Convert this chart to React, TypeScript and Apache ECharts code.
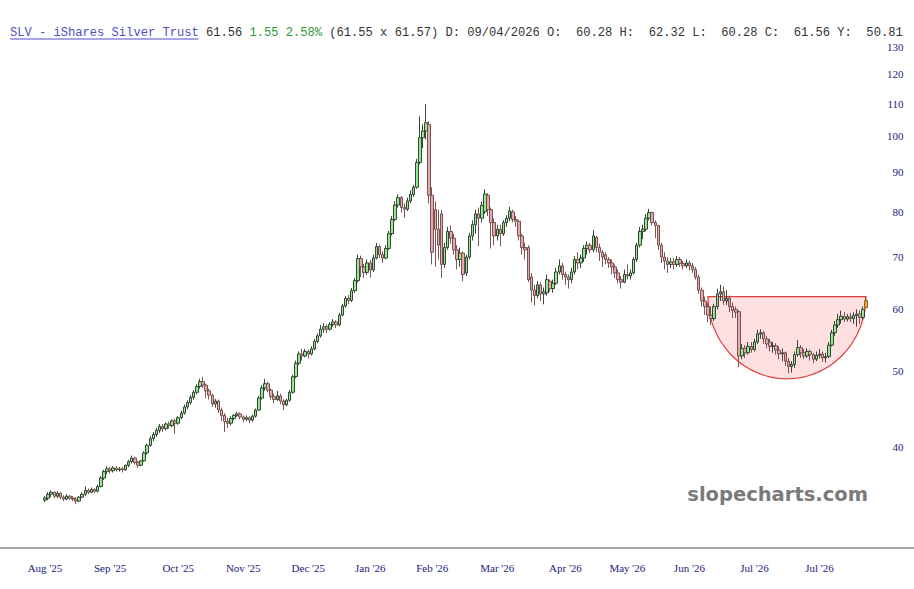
import { useEffect, useRef } from "react";
import * as echarts from "echarts";

// ---- Data ----
// Each candle: [open, close, low, high]
const aug25 = [
  [34.2, 34.4, 34.0, 34.6], [34.4, 34.8, 34.2, 35.0], [34.8, 35.0, 34.5, 35.2], [35.0, 34.6, 34.4, 35.1],
  [34.6, 34.9, 34.4, 35.1], [34.9, 34.5, 34.3, 35.0], [34.5, 34.3, 34.1, 34.7], [34.3, 34.6, 34.2, 34.8],
  [34.6, 34.4, 34.2, 34.7], [34.4, 34.3, 34.1, 34.6], [34.3, 34.1, 33.8, 34.5], [34.1, 34.5, 34.0, 34.6],
  [34.5, 34.8, 34.4, 35.0], [34.8, 35.2, 34.6, 35.6], [35.2, 35.0, 34.8, 35.4], [35.0, 35.3, 34.9, 35.5],
  [35.3, 35.1, 34.9, 35.4], [35.1, 35.6, 35.0, 35.8], [35.6, 36.5, 35.5, 36.7], [36.5, 37.2, 36.3, 37.4],
  [37.2, 37.5, 36.9, 37.8],
];
const sep25 = [
  [37.5, 37.3, 37.0, 37.7], [37.3, 37.6, 37.1, 37.8], [37.6, 37.4, 37.2, 37.8], [37.4, 37.5, 37.2, 37.7],
  [37.5, 37.4, 37.1, 37.7], [37.4, 37.9, 37.3, 38.0], [37.9, 38.3, 37.7, 38.5], [38.3, 38.7, 38.1, 39.0],
  [38.7, 38.2, 38.0, 38.9], [38.2, 37.9, 37.6, 38.4], [37.9, 38.4, 37.8, 38.5], [38.4, 39.3, 38.3, 39.5],
  [39.3, 40.2, 39.1, 40.4], [40.2, 41.0, 40.0, 41.3], [41.0, 41.5, 40.7, 41.8], [41.5, 42.0, 41.2, 42.3],
  [42.0, 42.5, 41.7, 42.8], [42.5, 42.2, 41.8, 42.8], [42.2, 42.8, 42.0, 43.0], [42.8, 42.6, 42.2, 43.1],
  [42.6, 43.2, 42.4, 43.4], [43.2, 42.9, 41.6, 43.5],
];
const oct25 = [
  [42.9, 43.6, 42.7, 43.8], [43.6, 44.2, 43.4, 44.5], [44.2, 45.0, 44.0, 45.3], [45.0, 45.6, 44.7, 45.9],
  [45.6, 46.3, 45.3, 46.6], [46.3, 47.0, 46.0, 47.3], [47.0, 47.8, 46.7, 48.1], [47.8, 48.5, 47.5, 48.9],
  [48.5, 48.0, 47.6, 49.2], [48.0, 47.2, 46.2, 48.2], [47.2, 46.6, 46.0, 47.5], [46.6, 45.4, 45.0, 46.8],
  [45.4, 45.8, 44.9, 46.1], [45.8, 44.6, 44.2, 46.0], [44.6, 43.9, 43.2, 44.9], [43.9, 43.1, 41.8, 44.2],
  [43.1, 42.9, 42.3, 43.6], [42.9, 43.5, 42.6, 43.8], [43.5, 43.9, 43.3, 44.1], [43.9, 44.1, 43.7, 44.4],
  [44.1, 43.7, 43.4, 44.3],
];
const nov25 = [
  [43.7, 43.4, 43.0, 43.9], [43.4, 43.6, 43.2, 43.9], [43.6, 43.3, 42.9, 43.8], [43.3, 43.8, 43.1, 44.0],
  [43.8, 44.6, 43.6, 44.8], [44.6, 46.2, 44.5, 46.5], [46.2, 47.6, 46.0, 48.0], [47.6, 48.2, 47.2, 48.9],
  [48.2, 47.3, 47.0, 48.5], [47.3, 46.4, 46.0, 47.5], [46.4, 46.0, 45.5, 46.8], [46.0, 46.5, 45.8, 47.2],
  [46.5, 45.8, 45.4, 46.8], [45.8, 45.3, 44.6, 46.0], [45.3, 45.9, 45.1, 46.1], [45.9, 47.0, 45.7, 47.3],
  [47.0, 49.2, 46.8, 49.5], [49.2, 51.2, 49.0, 51.6], [51.2, 52.6, 50.9, 53.0], [52.6, 52.3, 51.6, 53.4],
  [52.3, 53.0, 52.1, 53.4],
];
const dec25 = [
  [53.0, 52.6, 51.9, 53.3], [52.6, 53.4, 52.4, 53.8], [53.4, 54.6, 53.2, 55.0], [54.6, 55.5, 54.3, 55.9],
  [55.5, 56.6, 55.2, 57.3], [56.6, 57.0, 56.0, 57.6], [57.0, 56.6, 56.0, 57.4], [56.6, 57.4, 56.4, 57.8],
  [57.4, 57.8, 57.0, 58.3], [57.8, 57.3, 56.8, 58.1], [57.3, 59.0, 57.1, 59.4], [59.0, 60.6, 58.8, 61.0],
  [60.6, 62.0, 60.3, 62.4], [62.0, 61.6, 60.9, 62.6], [61.6, 63.4, 61.3, 63.9], [63.4, 65.3, 63.0, 65.8],
  [65.3, 69.7, 64.9, 70.5], [69.7, 68.0, 66.0, 70.3], [68.0, 66.9, 65.8, 68.6], [66.9, 68.8, 66.4, 69.5],
];
const jan26 = [
  [68.8, 67.4, 65.9, 69.4], [67.4, 69.8, 67.0, 70.5], [69.8, 72.2, 69.5, 73.0], [72.2, 70.5, 69.8, 72.6],
  [70.5, 69.8, 68.8, 71.2], [69.8, 71.8, 69.5, 72.5], [71.8, 75.0, 71.5, 75.6], [75.0, 78.2, 74.6, 79.0],
  [78.2, 81.6, 77.8, 82.5], [81.6, 83.4, 81.0, 84.2], [83.4, 81.0, 79.8, 83.8], [81.0, 80.6, 78.6, 82.0],
  [80.6, 82.6, 80.2, 83.4], [82.6, 84.2, 82.0, 85.2], [84.2, 86.0, 83.6, 86.6], [86.0, 92.5, 85.6, 93.5],
  [92.5, 99.5, 92.0, 106.0], [99.5, 101.5, 96.5, 103.5], [101.5, 104.0, 99.0, 109.9], [103.5, 84.0, 82.0, 104.5],
];
const feb26 = [
  [84.0, 71.0, 68.5, 86.0], [80.5, 76.0, 68.0, 82.5], [76.0, 72.5, 69.5, 80.5], [79.5, 68.5, 65.8, 80.5],
  [68.5, 72.0, 67.8, 73.0], [72.0, 75.5, 71.5, 76.5], [75.5, 74.0, 72.8, 76.8], [74.0, 71.5, 70.5, 75.0],
  [71.5, 69.5, 67.5, 72.5], [69.5, 70.8, 68.0, 72.0], [70.8, 66.5, 65.2, 71.2], [66.8, 70.0, 66.2, 70.5],
  [70.0, 74.5, 69.5, 75.2], [74.5, 77.0, 73.5, 78.0], [77.0, 79.5, 75.0, 80.5], [79.5, 78.5, 72.3, 81.0],
  [78.5, 81.5, 77.5, 82.5], [80.0, 84.3, 79.5, 85.5], [84.0, 80.5, 79.0, 84.5], [80.5, 77.5, 71.8, 81.0],
  [77.5, 74.5, 72.5, 78.5],
];
const mar26 = [
  [74.5, 76.0, 73.5, 77.0], [76.0, 75.0, 72.3, 77.0], [75.0, 77.5, 74.5, 78.0], [77.5, 78.5, 76.5, 79.2],
  [78.5, 80.2, 77.8, 81.2], [80.0, 78.2, 77.5, 80.5], [78.2, 77.8, 76.5, 79.0], [77.8, 74.5, 73.5, 78.0],
  [74.5, 72.0, 70.5, 75.0], [72.0, 71.5, 69.5, 73.0], [72.0, 65.5, 65.0, 72.5], [66.0, 63.5, 61.2, 66.8],
  [63.5, 62.5, 60.7, 64.5], [62.5, 64.5, 62.0, 65.2], [64.5, 62.8, 61.5, 65.0], [62.8, 63.2, 60.9, 64.0],
  [63.0, 65.5, 62.5, 66.5], [65.2, 63.8, 63.2, 65.5], [63.8, 64.8, 63.0, 65.5], [64.8, 67.0, 64.5, 67.8],
  [67.0, 68.2, 66.5, 69.5], [68.2, 66.5, 65.5, 68.8],
];
const apr26 = [
  [66.5, 66.0, 64.5, 67.0], [66.0, 65.5, 63.8, 66.5], [65.5, 67.0, 64.8, 67.8], [67.0, 69.5, 66.5, 70.2],
  [69.5, 68.8, 67.5, 71.0], [68.8, 69.8, 67.8, 70.5], [69.8, 71.8, 69.0, 72.5], [71.8, 72.5, 70.5, 73.3],
  [72.5, 71.5, 70.8, 73.0], [71.5, 74.5, 71.0, 75.8], [74.2, 72.0, 71.0, 74.5], [72.0, 71.0, 69.2, 72.8],
  [71.0, 70.0, 68.0, 71.5], [70.5, 69.5, 68.5, 71.0], [69.5, 68.8, 67.8, 70.0], [68.8, 68.0, 66.5, 69.5],
  [68.0, 66.8, 65.8, 68.5], [66.8, 65.5, 64.8, 67.5], [65.5, 65.0, 63.8, 66.2], [65.0, 66.5, 64.8, 67.5],
];
const may26 = [
  [66.5, 66.2, 65.5, 68.5], [66.2, 66.8, 65.5, 67.5], [66.8, 69.5, 66.5, 70.0], [69.5, 72.5, 69.0, 73.0],
  [72.5, 75.5, 72.0, 76.5], [75.5, 76.0, 73.8, 77.0], [76.0, 78.5, 75.5, 79.5], [78.5, 79.8, 78.0, 80.7],
  [79.8, 77.5, 76.8, 80.0], [77.5, 76.8, 74.0, 78.0], [76.8, 72.5, 71.5, 77.0], [72.5, 70.0, 68.8, 73.0],
  [70.0, 69.2, 67.5, 71.0], [69.2, 68.5, 66.8, 70.0], [68.5, 69.0, 67.8, 69.8], [69.0, 68.5, 67.5, 69.8],
  [68.5, 69.5, 68.0, 70.2], [69.5, 68.7, 68.0, 70.0], [68.7, 68.2, 67.5, 69.2], [68.2, 68.8, 67.8, 69.5],
];
const jun26 = [
  [68.8, 68.2, 67.3, 69.3], [68.2, 67.5, 66.8, 68.8], [67.5, 66.0, 65.5, 68.0], [66.0, 63.5, 62.8, 66.5],
  [63.5, 61.5, 60.5, 64.0], [61.5, 60.5, 59.0, 62.3], [60.5, 59.0, 57.8, 61.2], [59.0, 58.4, 57.3, 60.5],
  [58.4, 60.5, 58.0, 61.0], [60.5, 62.8, 60.0, 63.8], [62.8, 63.2, 61.5, 64.5], [63.2, 61.5, 60.8, 64.2],
  [61.5, 62.0, 60.8, 63.5], [62.0, 60.5, 59.5, 62.5], [60.5, 59.8, 58.5, 61.2], [60.0, 59.5, 58.5, 60.5],
  [59.6, 52.3, 50.6, 59.8], [52.3, 53.5, 51.8, 54.2], [53.5, 52.8, 52.0, 54.0], [52.8, 53.8, 52.5, 54.5],
  [53.8, 53.3, 52.8, 54.5],
];
const jul26 = [
  [53.3, 54.5, 53.0, 55.0], [54.5, 55.8, 54.2, 56.5], [55.8, 56.0, 55.0, 56.6], [56.0, 55.0, 54.2, 56.3],
  [55.0, 54.2, 53.5, 55.5], [54.5, 53.8, 53.0, 55.0], [53.8, 53.9, 52.8, 54.5], [53.9, 53.2, 52.5, 54.3],
  [53.2, 52.6, 51.8, 53.8], [52.6, 52.8, 51.5, 53.5], [52.8, 51.5, 50.8, 53.0], [51.5, 50.7, 49.7, 52.0],
  [50.7, 51.0, 49.8, 51.5], [51.0, 52.5, 50.5, 53.0], [52.5, 53.6, 52.2, 54.8], [53.6, 52.8, 52.0, 54.0],
  [52.8, 52.3, 51.8, 53.4], [52.3, 53.0, 52.0, 53.5], [53.0, 52.5, 51.6, 53.3], [52.5, 51.8, 51.2, 52.8],
  [51.8, 52.4, 51.5, 53.0],
];
const aug26 = [
  [52.4, 52.6, 51.9, 53.4], [52.6, 52.0, 51.4, 53.0], [52.0, 52.2, 51.3, 52.8], [52.2, 54.0, 52.0, 54.5],
  [54.0, 56.0, 53.8, 56.5], [56.0, 57.3, 55.5, 58.0], [57.3, 58.2, 56.8, 59.2], [58.2, 58.8, 57.5, 59.8],
  [58.8, 58.3, 57.8, 59.5], [58.3, 58.7, 57.9, 59.2], [58.7, 58.4, 57.8, 59.4], [58.4, 58.9, 57.5, 59.5],
  [58.9, 59.2, 57.0, 60.0], [59.2, 58.6, 57.5, 59.8], [58.6, 60.01, 58.2, 60.5], [60.28, 61.56, 60.28, 62.32],
];

const monthStarts = [0, 21, 43, 64, 85, 105, 125, 146, 168, 188, 208, 229, 250];
const monthLabels = [
  "Aug '25", "Sep '25", "Oct '25", "Nov '25", "Dec '25", "Jan '26", "Feb '26",
  "Mar '26", "Apr '26", "May '26", "Jun '26", "Jul '26", "Jul '26",
];
const yTicks = [40, 50, 60, 70, 80, 90, 100, 110, 120, 130];
// rounded-bottom pattern: [left index, right index, rim price, bottom price]
const bowl = [214, 265, 62.3, 48.9];

const titleLink = "SLV - iShares Silver Trust";
const titlePrice = "61.56";
const titleChange = "1.55 2.58%";
const titleRest = "(61.55 x 61.57) D: 09/04/2026 O:  60.28 H:  62.32 L:  60.28 C:  61.56 Y:  50.81";
const watermark = "slopecharts.com";

const SERIF = "'Liberation Serif', 'Times New Roman', serif";
const MONO = "'Liberation Mono', 'Courier New', monospace";
const SANS = "'DejaVu Sans', Verdana, sans-serif";

export default function App() {
  const ref = useRef<HTMLDivElement>(null);

  useEffect(() => {
    if (!ref.current) return;
    const chart = echarts.init(ref.current, null, { renderer: "svg" });

    const candles = [
      ...aug25, ...sep25, ...oct25, ...nov25, ...dec25, ...jan26, ...feb26,
      ...mar26, ...apr26, ...may26, ...jun26, ...jul26, ...aug26,
    ];
    const last = candles.length - 1;
    const categories = candles.map((_, i) => String(i));
    const labelMap: Record<number, string> = {};
    monthStarts.forEach((idx, k) => (labelMap[idx] = monthLabels[k]));

    const candleData = candles.map((c, i) =>
      i === last
        ? { value: c, itemStyle: { color: "#f3a23e", borderColor: "#8a4f12", color0: "#f3a23e", borderColor0: "#8a4f12" } }
        : c
    );

    const option: any = {
      animation: false,
      backgroundColor: "#ffffff",
      grid: { left: 43.45, right: 46.5, top: 47, bottom: 41, containLabel: false, outerBoundsMode: "none" },
      xAxis: {
        type: "category",
        data: categories,
        boundaryGap: true,
        axisLine: { show: false },
        axisTick: { show: false },
        splitLine: { show: false },
        axisLabel: {
          interval: (i: number) => labelMap[i] !== undefined,
          formatter: (v: string) => labelMap[Number(v)] ?? "",
          margin: 14,
          color: "#1b1b7e",
          fontSize: 11,
          fontFamily: SERIF,
          hideOverlap: false,
        },
      },
      yAxis: {
        type: "log",
        logBase: 10,
        min: 29.7,
        max: 130,
        position: "right",
        axisLine: { show: false },
        axisTick: { show: false },
        axisLabel: { show: false },
        splitLine: { show: false },
      },
      graphic: [
        {
          type: "line",
          shape: { x1: 0, y1: 548, x2: 914, y2: 548 },
          style: { stroke: "#8a8a8a", lineWidth: 1.6 },
          silent: true,
        },
        {
          type: "text",
          x: 10,
          y: 32.5,
          style: {
            text: `{a|${titleLink}} ${titlePrice} {g|${titleChange}} ${titleRest}`,
            fill: "#333333",
            fontSize: 12.1,
            fontFamily: MONO,
            verticalAlign: "middle",
            rich: {
              a: { fill: "#4d4dc6", fontSize: 12.1, fontFamily: MONO },
              g: { fill: "#2f9a2f", fontSize: 12.1, fontFamily: MONO },
            },
          },
        },
        {
          type: "line",
          shape: { x1: 10, y1: 39, x2: 198.5, y2: 39 },
          style: { stroke: "#4d4dc6", lineWidth: 1 },
          silent: true,
        },
        {
          type: "text",
          x: 868,
          y: 494,
          style: {
            text: watermark,
            fill: "#7a7a7a",
            fontSize: 19.5,
            fontWeight: "bold",
            fontFamily: SANS,
            align: "right",
            verticalAlign: "middle",
          },
          silent: true,
        },
      ],
      series: [
        {
          type: "custom",
          name: "bowl",
          z: 1,
          silent: true,
          clip: false,
          data: [bowl],
          encode: { x: [0, 1], y: [2, 3] },
          renderItem: (_params: any, api: any) => {
            const l = api.coord([api.value(0), api.value(2)]);
            const r = api.coord([api.value(1), api.value(2)]);
            const b = api.coord([(api.value(0) + api.value(1)) / 2, api.value(3)]);
            const cx = (l[0] + r[0]) / 2;
            const cy = l[1];
            const rx = (r[0] - l[0]) / 2;
            const ry = b[1] - cy;
            const pts: number[][] = [];
            for (let k = 0; k <= 72; k++) {
              const t = (Math.PI * k) / 72;
              pts.push([cx + rx * Math.cos(t), cy + ry * Math.sin(t)]);
            }
            return {
              type: "polygon",
              shape: { points: pts },
              style: { fill: "rgba(255, 70, 70, 0.17)", stroke: "#e23a3a", lineWidth: 1.2 },
            };
          },
        },
        {
          type: "candlestick",
          z: 3,
          data: candleData,
          barWidth: 3,
          itemStyle: {
            color: "#90ea90",
            color0: "#e6a8a8",
            borderColor: "#263326",
            borderColor0: "#6a4444",
            borderWidth: 0.9,
          },
        },
        {
          type: "custom",
          name: "yTicks",
          silent: true,
          clip: false,
          data: yTicks.map((v) => [0, v]),
          encode: { x: 0, y: 1 },
          renderItem: (params: any, api: any) => {
            const p = api.coord([0, api.value(1)]);
            const cs = params.coordSys;
            return {
              type: "text",
              x: cs.x + cs.width + 36,
              y: p[1],
              style: {
                text: String(api.value(1)),
                fill: "#1b1b7e",
                fontSize: 11,
                fontFamily: SERIF,
                align: "right",
                verticalAlign: "middle",
              },
            };
          },
        },
      ],
    };

    chart.setOption(option);
    return () => chart.dispose();
  }, []);

  return (
    <div
      ref={ref}
      style={{ position: "fixed", left: 0, top: 0, width: 914, height: 589, background: "#ffffff" }}
    />
  );
}
